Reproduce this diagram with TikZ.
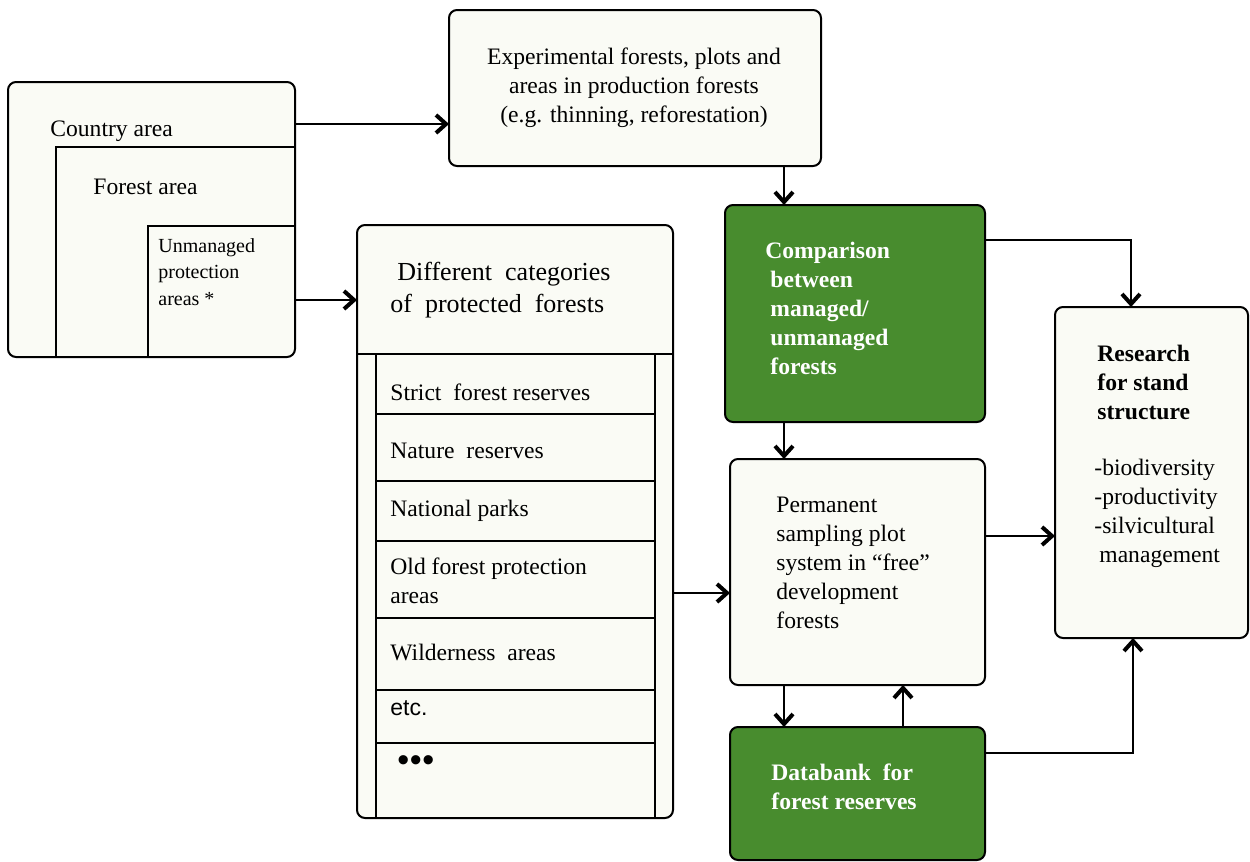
\documentclass[tikz,border=0pt]{standalone}
\usepackage{fontspec}
\setmainfont{Liberation Serif}
\newfontfamily\sansf{Liberation Sans}
\usetikzlibrary{arrows.meta,calc}
\definecolor{boxfill}{RGB}{250,251,245}
\definecolor{forestgreen}{RGB}{72,140,46}
\begin{document}
\begin{tikzpicture}[x=0.5pt,y=-0.5pt,
  box/.style={draw, line width=1pt, rounded corners=4pt, fill=boxfill, inner sep=0pt, outer sep=0pt},
  gbox/.style={box, fill=forestgreen},
  conn/.style={line width=1.2pt, -{Straight Barb[length=5pt,width=9pt,line width=2pt]}},
  plainline/.style={line width=1pt},
  txt/.style={inner sep=0pt, font=\fontsize{11.8}{14.5}\selectfont, align=left},
  smalltxt/.style={inner sep=0pt, font=\fontsize{10}{13.25}\selectfont, align=left},
  headtxt/.style={inner sep=0pt, font=\fontsize{13}{16}\selectfont, align=left},
  wtxt/.style={inner sep=0pt, font=\bfseries\fontsize{11.8}{14.5}\selectfont, align=left, text=white},
  btxt/.style={inner sep=0pt, font=\bfseries\fontsize{11.8}{14.5}\selectfont, align=left},
]
\useasboundingbox (0,0) rectangle (1250,862);
\fill[white] (0,0) rectangle (1250,862);

% boxes
\node[box, minimum width=143.5pt, minimum height=137.5pt] (country) at (151.5,219.5) {};
\node[box, minimum width=186pt, minimum height=78pt] (exp) at (635,88) {};
\node[box, minimum width=158pt, minimum height=296.5pt] (cat) at (515,521.5) {};
\node[gbox, minimum width=130pt, minimum height=108.5pt] (comp) at (855,313.5) {};
\node[box, minimum width=127.5pt, minimum height=113pt] (perm) at (857.5,572) {};
\node[gbox, minimum width=127.5pt, minimum height=66.5pt] (data) at (857.5,793.5) {};
\node[box, minimum width=96.5pt, minimum height=165.5pt] (res) at (1151.5,472.5) {};

% nested areas
\draw[plainline] (country.south -| 56,0) -- (56,147) -- (country.east |- 0,147);
\draw[plainline] (country.south -| 148,0) -- (148,226) -- (country.east |- 0,226);
\node[txt, anchor=mid west] (countrytxt) at (50,132) {Country area};
\node[txt, anchor=mid west] (foresttxt) at (93,190) {Forest area};
\node[smalltxt, anchor=north west] (unmtxt) at (158,238) {Unmanaged\\protection\\areas *};

% experimental
\node[txt, anchor=north, align=center] (exptxt) at (634,47) {Experimental forests, plots and\\areas in production forests\\(e.g. thinning, reforestation)};

% categories
\draw[plainline] (cat.west |- 0,354) -- (cat.east |- 0,354);
\draw[plainline] (376,354) -- (cat.south -| 376,0);
\draw[plainline] (655,354) -- (cat.south -| 655,0);
\foreach \yy in {414,481,541,618,690,743} {
  \draw[plainline] (376,\yy) -- (655,\yy);
}
\node[headtxt, anchor=north west] (cathead) at (390,262) {\hspace*{3.5pt}Different\ \ categories\\of\ \ protected\ \ forests};
\node[txt, anchor=mid west] (r1) at (390,396) {Strict\ \ forest reserves};
\node[txt, anchor=mid west] (r2) at (390,454) {Nature\ \ reserves};
\node[txt, anchor=mid west] (r3) at (390,512) {National parks};
\node[txt, anchor=north west] (r4) at (390,557) {Old forest protection\\areas};
\node[txt, anchor=mid west] (r5) at (390,656) {Wilderness\ \ areas};
\node[txt, anchor=mid west, font=\sansf\fontsize{11.5}{14}\selectfont] (r6) at (390,711) {etc.};
\node[txt, anchor=mid west, font=\sansf\fontsize{17}{18}\selectfont] (r7) at (397,767) {\textbullet\kern0.3pt\textbullet\kern0.3pt\textbullet};

% comparison
\node[wtxt, anchor=north west] (comptxt) at (770,242) {\hspace*{-2.5pt}Comparison\\between\\managed/\\unmanaged\\forests};

% permanent
\node[txt, anchor=north west] (permtxt) at (776,497) {Permanent\\sampling plot\\system in “free”\\development\\forests};

% databank
\node[wtxt, anchor=north west] (datatxt) at (771,763) {Databank\ \ for\\forest reserves};

% research
\node[btxt, anchor=north west] (restitle) at (1097,345) {Research\\for stand\\structure};
\node[txt, anchor=north west] (reslist) at (1094,459) {-biodiversity\\-productivity\\-silvicultural\\\hspace*{2.5pt}management};

% connectors
\draw[conn] (country.east |- 0,124) -- (exp.west |- 0,124);
\draw[conn] (country.east |- 0,300) -- (cat.west |- 0,300);
\draw[conn] (exp.south -| 784,0) -- (comp.north -| 784,0);
\draw[conn] (comp.south -| 784,0) -- (perm.north -| 784,0);
\draw[conn] (comp.east |- 0,240) -| (res.north -| 1131,0);
\draw[conn] (cat.east |- 0,593) -- (perm.west |- 0,593);
\draw[conn] (perm.east |- 0,536) -- (res.west |- 0,536);
\draw[conn] (perm.south -| 784,0) -- (data.north -| 784,0);
\draw[conn] (data.north -| 903,0) -- (perm.south -| 903,0);
\draw[conn] (data.east |- 0,753) -| (res.south -| 1133,0);
\end{tikzpicture}
\end{document}
